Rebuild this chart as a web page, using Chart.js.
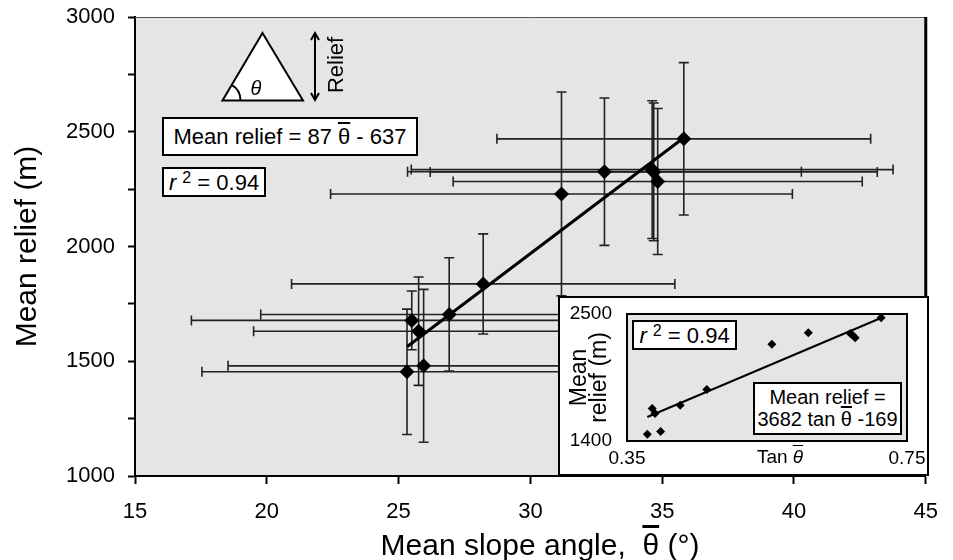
<!DOCTYPE html>
<html>
<head>
<meta charset="utf-8">
<script src="https://cdn.jsdelivr.net/npm/chart.js@4/dist/chart.umd.min.js"></script>
<style>
  html, body { margin: 0; padding: 0; background: #fff; }
  #wrap { position: relative; width: 953px; height: 560px; font-family: "Liberation Sans", Arial, sans-serif; color: #000; }
  #main { position: absolute; left: 0; top: 0; }
  #inset { position: absolute; left: 558px; top: 296px; width: 371px; height: 180px; background: #fff; border: 2px solid #000; box-sizing: border-box; }
  #insetChart { position: absolute; left: 0; top: 0; }
  .box { position: absolute; background: #fff; border: 2px solid #000; box-sizing: border-box; white-space: nowrap; text-align: center; }
  .sup { position: relative; top: -7px; font-size: 16px; }
  .bar { text-decoration: overline; }
  #xtitle { position: absolute; left: 290px; top: 530px; width: 500px; text-align: center; font-size: 30px; line-height: 29px; white-space: nowrap; }
</style>
</head>
<body>
<div id="wrap">
  <canvas id="main" width="953" height="560"></canvas>
  <div id="xtitle">Mean slope angle,&nbsp; <span class="bar">θ</span> (°)</div>
  <div class="box" style="left:162px;top:117px;width:256px;height:39px;font-size:22px;line-height:35px;">Mean relief = 87 <span class="bar">θ</span> - 637</div>
  <div class="box" style="left:162px;top:167px;width:104px;height:30px;font-size:22px;line-height:27px;"><i>r</i> <span class="sup">2</span> = 0.94</div>
  <div id="inset"><canvas id="insetChart" width="367" height="176"></canvas></div>
  <div class="box" style="left:632px;top:320px;width:105px;height:30px;font-size:22px;line-height:27px;"><i>r</i> <span class="sup">2</span> = 0.94</div>
  <div class="box" style="left:753px;top:382px;width:149px;height:53px;font-size:20px;line-height:22px;padding-top:2px;">Mean relief =<br>3682 tan <span class="bar">θ</span> -169</div>
  <div style="position:absolute;left:740px;top:446px;width:80px;text-align:center;font-size:19px;">Tan <i class="bar">θ</i></div>
</div>
<script>
// main panel: mean slope vs mean relief, with 1-sigma bars
const SLOPE      = [25.32, 25.95, 25.50, 25.76, 26.92, 28.21, 31.18, 32.81, 34.68, 34.62, 34.83, 35.82];
const RELIEF     = [1454, 1480, 1678, 1631, 1704, 1837, 2229, 2326, 2325, 2335, 2283, 2469];
const SLOPE_ERR  = [7.78, 7.42, 8.36, 6.26, 7.15, 7.27, 8.76, 7.47, 8.48, 9.14, 7.76, 7.09];
const RELIEF_ERR = [273, 333, 128, 236, 247, 218, 444, 321, 300, 300, 318, 332];
const FIT_X = [25.32, 35.82];
const FIT_Y = [1563, 2474];

// inset: tan of slope vs relief
const TAN          = [0.379, 0.398, 0.386, 0.390, 0.426, 0.464, 0.557, 0.609, 0.669, 0.672, 0.676, 0.713];
const INSET_RELIEF = [1458, 1482, 1681, 1638, 1710, 1846, 2237, 2337, 2332, 2318, 2294, 2468];
const TAN_FIT_X = [0.379, 0.717];
const TAN_FIT_Y = [1608, 2476];

const FONT = "'Liberation Sans', Arial, sans-serif";
Chart.defaults.font.family = FONT;
Chart.defaults.color = "#000";

const plotBg = {
  id: "plotBg",
  beforeDraw(chart) {
    const a = chart.chartArea, ctx = chart.ctx;
    ctx.save();
    ctx.fillStyle = "#e5e5e5";
    ctx.fillRect(a.left, a.top, a.right - a.left, a.bottom - a.top);
    ctx.restore();
  }
};

const mainFrame = {
  id: "mainFrame",
  afterDraw(chart) {
    const a = chart.chartArea, ctx = chart.ctx;
    ctx.save();
    ctx.strokeStyle = "#555";
    ctx.lineWidth = 1;
    ctx.beginPath(); ctx.moveTo(a.left, a.top + 0.5); ctx.lineTo(a.right, a.top + 0.5); ctx.stroke();
    ctx.strokeStyle = "#000";
    ctx.lineWidth = 3;
    ctx.beginPath(); ctx.moveTo(a.right, a.top); ctx.lineTo(a.right, a.bottom); ctx.stroke();
    ctx.restore();
  }
};

const errorBars = {
  id: "errorBars",
  beforeDatasetsDraw(chart) {
    const { ctx, scales: { x, y } } = chart;
    const cap = 5;
    ctx.save();
    ctx.strokeStyle = "#222";
    ctx.lineWidth = 1.6;
    SLOPE.forEach((s, i) => {
      const px = x.getPixelForValue(s), py = y.getPixelForValue(RELIEF[i]);
      const x0 = x.getPixelForValue(s - SLOPE_ERR[i]), x1 = x.getPixelForValue(s + SLOPE_ERR[i]);
      const y0 = y.getPixelForValue(RELIEF[i] - RELIEF_ERR[i]), y1 = y.getPixelForValue(RELIEF[i] + RELIEF_ERR[i]);
      ctx.beginPath();
      ctx.moveTo(x0, py); ctx.lineTo(x1, py);
      ctx.moveTo(x0, py - cap); ctx.lineTo(x0, py + cap);
      ctx.moveTo(x1, py - cap); ctx.lineTo(x1, py + cap);
      ctx.moveTo(px, y0); ctx.lineTo(px, y1);
      ctx.moveTo(px - cap, y0); ctx.lineTo(px + cap, y0);
      ctx.moveTo(px - cap, y1); ctx.lineTo(px + cap, y1);
      ctx.stroke();
    });
    ctx.restore();
  }
};

// little sketch of a hillslope in the upper left
const sketch = {
  id: "sketch",
  afterDraw(chart) {
    const ctx = chart.ctx;
    ctx.save();
    ctx.strokeStyle = "#000";
    ctx.fillStyle = "#fff";
    ctx.lineWidth = 2;
    ctx.beginPath();
    ctx.moveTo(262.5, 33); ctx.lineTo(303, 100.5); ctx.lineTo(222.5, 100.5); ctx.closePath();
    ctx.fill(); ctx.stroke();
    ctx.beginPath();
    ctx.arc(222.5, 100.5, 18, -1.04, 0);
    ctx.stroke();
    ctx.fillStyle = "#000";
    ctx.font = "italic 20px " + FONT;
    ctx.textAlign = "center"; ctx.textBaseline = "middle";
    ctx.fillText("θ", 256, 89);
    // double arrow
    ctx.beginPath();
    ctx.moveTo(315, 34); ctx.lineTo(315, 99);
    ctx.moveTo(311, 40); ctx.lineTo(315, 33); ctx.lineTo(319, 40);
    ctx.moveTo(311, 93); ctx.lineTo(315, 100); ctx.lineTo(319, 93);
    ctx.stroke();
    ctx.translate(337, 65);
    ctx.rotate(-Math.PI / 2);
    ctx.font = "22px " + FONT;
    ctx.fillText("Relief", 0, 0);
    ctx.restore();
  }
};

new Chart(document.getElementById("main"), {
  type: "scatter",
  data: {
    datasets: [
      {
        label: "Basins",
        data: SLOPE.map((s, i) => ({ x: s, y: RELIEF[i] })),
        pointStyle: "rectRot",
        pointRadius: 7.5,
        backgroundColor: "#000",
        borderColor: "#000",
        borderWidth: 0
      },
      {
        label: "Fit",
        data: FIT_X.map((s, i) => ({ x: s, y: FIT_Y[i] })),
        showLine: true,
        borderColor: "#000",
        borderWidth: 3,
        pointRadius: 0
      }
    ]
  },
  options: {
    responsive: false,
    animation: false,
    events: [],
    layout: { padding: { top: 17, right: 25, left: 0, bottom: 0 } },
    plugins: { legend: { display: false }, tooltip: { enabled: false } },
    scales: {
      x: {
        type: "linear", min: 15, max: 45,
        ticks: { stepSize: 5, font: { size: 22 }, padding: 15, maxRotation: 0 },
        grid: { drawOnChartArea: false, color: "#000", tickLength: 8, tickWidth: 2 },
        border: { color: "#000", width: 2 },
        afterFit: s => { s.height = 84; }
      },
      y: {
        min: 1000, max: 3000,
        ticks: { stepSize: 250, font: { size: 22 }, padding: 13, callback: v => (v % 500 === 0 ? String(v) : "") },
        grid: { drawOnChartArea: false, color: "#000", tickLength: 7, tickWidth: 2 },
        border: { color: "#000", width: 2 },
        title: { display: true, text: "Mean relief (m)", font: { size: 30, lineHeight: 1 }, padding: { top: 13, bottom: 0 } },
        afterFit: s => { s.width = 135; s.paddingTop = 0; s.paddingBottom = 0; }
      }
    }
  },
  plugins: [plotBg, errorBars, mainFrame, sketch]
});

const insetFrame = {
  id: "insetFrame",
  afterDraw(chart) {
    const a = chart.chartArea, ctx = chart.ctx;
    ctx.save();
    ctx.strokeStyle = "#000";
    ctx.lineWidth = 2;
    ctx.strokeRect(a.left, a.top, a.right - a.left, a.bottom - a.top);
    ctx.restore();
  }
};

new Chart(document.getElementById("insetChart"), {
  type: "scatter",
  data: {
    datasets: [
      {
        label: "Basins",
        data: TAN.map((t, i) => ({ x: t, y: INSET_RELIEF[i] })),
        pointStyle: "rectRot",
        pointRadius: 4.5,
        backgroundColor: "#000",
        borderWidth: 0
      },
      {
        label: "Fit",
        data: TAN_FIT_X.map((t, i) => ({ x: t, y: TAN_FIT_Y[i] })),
        showLine: true,
        borderColor: "#000",
        borderWidth: 2,
        pointRadius: 0
      }
    ]
  },
  options: {
    responsive: false,
    animation: false,
    events: [],
    layout: { padding: { top: 16, right: 20, left: 0, bottom: 0 } },
    plugins: { legend: { display: false }, tooltip: { enabled: false } },
    scales: {
      x: {
        type: "linear", min: 0.35, max: 0.75,
        afterBuildTicks: s => { s.ticks = [{ value: 0.35 }, { value: 0.75 }]; },
        ticks: { font: { size: 19 }, padding: -2, maxRotation: 0, autoSkip: false, callback: v => v.toFixed(2) },
        grid: { display: false },
        border: { display: false },
        afterFit: s => { s.height = 33; }
      },
      y: {
        min: 1400, max: 2500,
        afterBuildTicks: s => { s.ticks = [{ value: 1400 }, { value: 2500 }]; },
        ticks: { font: { size: 19 }, padding: 7, callback: v => String(v) },
        grid: { display: false },
        border: { display: false },
        title: { display: true, text: ["Mean", "relief (m)"], font: { size: 23, lineHeight: 0.87 }, padding: { top: 10, bottom: 0 } },
        afterFit: s => { s.width = 67; s.paddingTop = 0; s.paddingBottom = 0; }
      }
    }
  },
  plugins: [plotBg, insetFrame]
});
</script>
</body>
</html>
